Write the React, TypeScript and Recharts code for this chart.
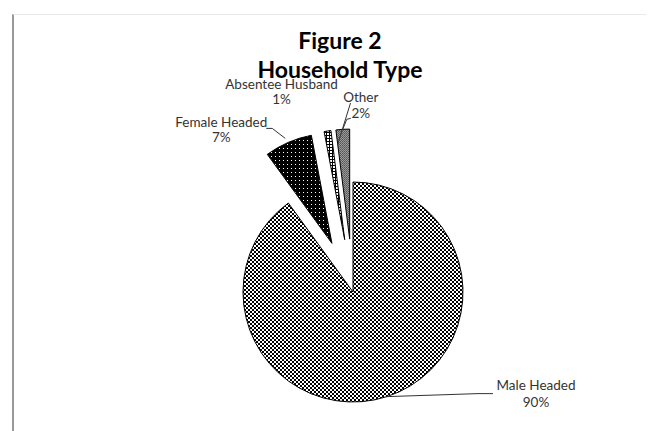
import { PieChart, Pie, Sector } from "recharts"

const categories = ["Male Headed", "Female Headed", "Absentee Husband", "Other"]
const shares = [90, 7, 1, 2]
const titleLines = ["Figure 2", "Household Type"]

const data = categories.map((name, i) => ({ name, value: shares[i] }))

// how far each slice is pulled out of the pie
const explode = [0, 53, 53, 53]
const patterns = ["pMale", "pFemale", "pAbsent", "pOther"]

// leader line points and text placement, relative to the middle of each slice's arc
const labelLayout = [
  { line: [[0, 0], [91, -3], [106, -3]], tx: 149, ty: [-12, 5] },
  { line: [[-3, -4], [-16, -14], [-22, -14]], tx: -67, ty: [-20, -5] },
  { line: [[10, 14], [23, -28]], tx: -46, ty: [-47, -32] },
  { line: [[0, 0], [4, -10], [8, -11]], tx: 18, ty: [-32, -16] },
]

const RAD = Math.PI / 180
const labelFont = "Lato, 'Open Sans', sans-serif"

function shifted(cx: number, cy: number, midAngle: number, d: number) {
  return {
    x: cx + d * Math.cos(-midAngle * RAD),
    y: cy + d * Math.sin(-midAngle * RAD),
  }
}

function renderSlice(props: any) {
  const { cx, cy, midAngle, index } = props
  const c = shifted(cx, cy, midAngle, explode[index] ?? 0)
  return (
    <Sector
      {...props}
      cx={c.x}
      cy={c.y}
      fill={`url(#${patterns[index]})`}
      stroke="#000"
      strokeWidth={1}
    />
  )
}

function renderLabel(props: any) {
  const { cx, cy, midAngle, outerRadius, index, name, percent } = props
  const c = shifted(cx, cy, midAngle, explode[index] ?? 0)
  const m = shifted(c.x, c.y, midAngle, outerRadius)
  const lay = labelLayout[index]
  const pts = lay.line.map(([dx, dy]) => `${m.x + dx},${m.y + dy}`).join(" ")
  return (
    <g key={`lbl-${index}`}>
      <polyline points={pts} fill="none" stroke="#333" strokeWidth={1} />
      <text
        x={m.x + lay.tx}
        y={m.y + lay.ty[0]}
        textAnchor="middle"
        dominantBaseline="central"
        fontFamily={labelFont}
        fontSize={13.5}
        fill="#333"
      >
        {name}
      </text>
      <text
        x={m.x + lay.tx}
        y={m.y + lay.ty[1]}
        textAnchor="middle"
        dominantBaseline="central"
        fontFamily={labelFont}
        fontSize={13.5}
        fill="#333"
      >
        {`${Math.round(percent * 100)}%`}
      </text>
    </g>
  )
}

export default function App() {
  return (
    <div
      style={{
        marginLeft: 4,
        marginTop: 6,
        borderLeft: "2px solid #999",
        borderTop: "1px solid #e8e8e8",
        width: 640,
        height: 416,
      }}
    >
      <PieChart width={640} height={416}>
        <defs>
          <pattern id="pMale" width={4} height={4} patternUnits="userSpaceOnUse">
            <rect width={4} height={4} fill="#fff" />
            <rect width={2} height={2} fill="#000" />
            <rect x={2} y={2} width={2} height={2} fill="#000" />
          </pattern>
          <pattern id="pFemale" width={4} height={4} patternUnits="userSpaceOnUse">
            <rect width={4} height={4} fill="#000" />
            <rect x={1} y={1} width={1} height={1} fill="#fff" />
          </pattern>
          <pattern id="pAbsent" width={3} height={3} patternUnits="userSpaceOnUse">
            <rect width={3} height={3} fill="#fff" />
            <rect width={3} height={1} fill="#000" />
            <rect width={1} height={3} fill="#000" />
          </pattern>
          <pattern id="pOther" width={2} height={2} patternUnits="userSpaceOnUse">
            <rect width={2} height={2} fill="#999" />
            <rect width={1} height={1} fill="#555" />
            <rect x={1} y={1} width={1} height={1} fill="#666" />
          </pattern>
        </defs>
        <text x={326} y={25} textAnchor="middle" dominantBaseline="central"
          fontFamily={labelFont} fontWeight="bold" fontSize={23} fill="#000">
          {titleLines[0]}
        </text>
        <text x={326} y={54} textAnchor="middle" dominantBaseline="central"
          fontFamily={labelFont} fontWeight="bold" fontSize={23} fill="#000">
          {titleLines[1]}
        </text>
        <Pie
          data={data}
          dataKey="value"
          nameKey="name"
          cx={334}
          cy={272}
          outerRadius={110}
          startAngle={90}
          endAngle={-270}
          isAnimationActive={false}
          shape={renderSlice}
          label={renderLabel}
          labelLine={false}
        />
      </PieChart>
    </div>
  )
}
